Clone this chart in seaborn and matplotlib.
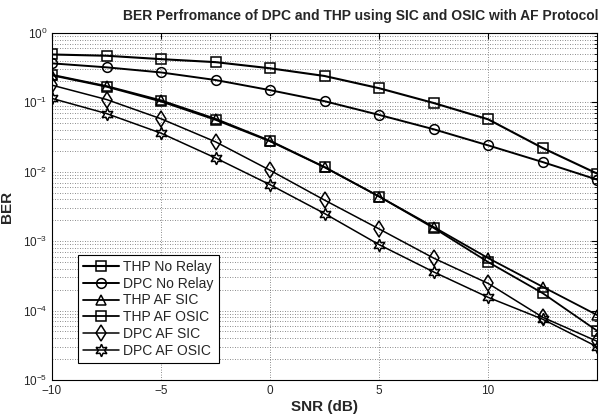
import numpy as np
import pandas as pd
import seaborn as sns
import matplotlib.pyplot as plt

# SNR points (dB)
snr = [-10, -7.5, -5, -2.5, 0, 2.5, 5, 7.5, 10, 12.5, 15]

# BER
thp_no_relay = [0.49, 0.47, 0.42, 0.38, 0.31, 0.24, 0.16, 0.098, 0.057, 0.022, 0.0094]
dpc_no_relay = [0.365, 0.32, 0.27, 0.21, 0.15, 0.104, 0.066, 0.041, 0.024, 0.0138, 0.0077]
thp_af_sic = [0.25, 0.172, 0.107, 0.058, 0.028, 0.0117, 0.0044, 0.0016, 0.00057, 0.00022, 8.6e-5]
thp_af_osic = [0.245, 0.168, 0.103, 0.056, 0.0275, 0.0116, 0.0044, 0.00155, 0.0005, 0.000178, 5.1e-5]
dpc_af_sic = [0.177, 0.11, 0.058, 0.027, 0.0105, 0.0039, 0.0015, 0.00057, 0.000246, 8e-5, 3.6e-5]
dpc_af_osic = [0.114, 0.069, 0.036, 0.0158, 0.0065, 0.0025, 0.00089, 0.00036, 0.000155, 7.5e-5, 3.0e-5]

names = ['THP No Relay', 'DPC No Relay', 'THP AF SIC', 'THP AF OSIC', 'DPC AF SIC', 'DPC AF OSIC']
series = [thp_no_relay, dpc_no_relay, thp_af_sic, thp_af_osic, dpc_af_sic, dpc_af_osic]
markers = ['s', 'o', '^', 's', 'd', (6, 1, 0)]
msizes = [7, 7, 7, 7, 8.5, 9]
widths = [1.5, 1.4, 1.3, 1.3, 1.1, 1.1]

sns.set_style('white')
plt.rcParams['font.family'] = ['Liberation Sans', 'DejaVu Sans']

fig = plt.figure(figsize=(6.02, 4.15), dpi=100)
ax = fig.add_axes([0.0864, 0.0845, 0.9056, 0.8360])

for name, vals, m, ms, lw in zip(names, series, markers, msizes, widths):
    sns.lineplot(x=snr, y=vals, ax=ax, color='k', marker=m, label=name,
                 linewidth=lw, markersize=ms, markerfacecolor='none',
                 markeredgecolor='k', markeredgewidth=1.1)

ax.set_yscale('log')
ax.set_xlim(-10, 15)
ax.set_ylim(1e-5, 1)
ax.set_xticks([-10, -5, 0, 5, 10])

grid_kw = dict(linestyle=(0, (1, 2)), color='#666666', linewidth=0.6)
ax.grid(True, which='major', axis='both', **grid_kw)
ax.grid(True, which='minor', axis='y', **grid_kw)
ax.tick_params(which='both', direction='in', top=True, right=True, labelsize=8.5, color='k')
ax.tick_params(which='major', length=4)
ax.tick_params(which='minor', length=2)
for s in ax.spines.values():
    s.set_color('k')
    s.set_linewidth(0.8)

ax.set_title('BER Perfromance of DPC and THP using SIC and OSIC with AF Protocol',
             fontsize=10, fontweight='bold', pad=9, x=0.566)
ax.set_xlabel('SNR (dB)', fontsize=11, fontweight='bold', labelpad=2)
ax.set_ylabel('BER', fontsize=11, fontweight='bold', labelpad=6)

leg = ax.legend(loc='lower left', bbox_to_anchor=(0.048, 0.05), fontsize=10,
                fancybox=False, edgecolor='k', framealpha=1, handlelength=2.6,
                borderpad=0.35, labelspacing=0.2, handletextpad=0.3, borderaxespad=0)
leg.get_frame().set_linewidth(0.8)

plt.savefig('out.png', dpi=100)
